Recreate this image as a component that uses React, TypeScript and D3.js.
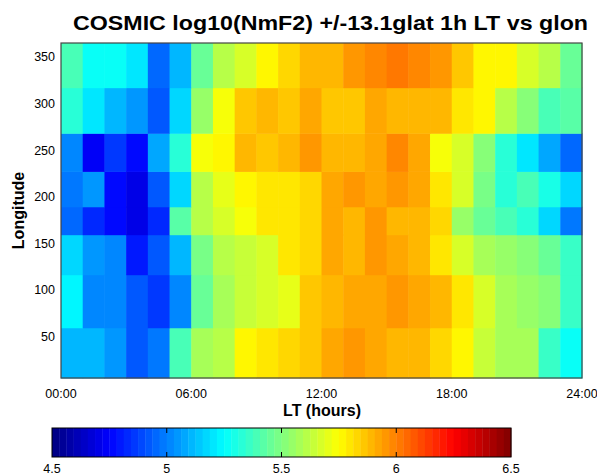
import React from 'react';
import * as d3 from 'd3';

// local time bins (hours), 1h wide
const hours = d3.range(24);
// longitude bin edges (deg), bottom to top
const lonEdges = [5, 59, 116, 159, 189, 227, 268, 317, 365];
// log10(NmF2) per longitude bin (bottom to top), 24 hourly values each
const nmf2 = [
  [5.12, 5.10, 5.05, 4.93, 4.99, 5.38, 5.58, 5.62, 5.75, 5.80, 5.83, 5.86, 5.92, 5.94, 5.91, 5.89, 5.88, 5.83, 5.75, 5.64, 5.58, 5.58, 5.35, 5.25],
  [5.22, 5.02, 5.00, 4.93, 4.85, 5.02, 5.45, 5.58, 5.64, 5.67, 5.71, 5.86, 5.90, 5.91, 5.91, 5.94, 5.92, 5.89, 5.81, 5.68, 5.58, 5.54, 5.50, 5.35],
  [5.18, 5.04, 5.00, 4.81, 4.91, 5.12, 5.49, 5.62, 5.64, 5.67, 5.80, 5.83, 5.91, 5.89, 5.94, 5.91, 5.89, 5.79, 5.66, 5.58, 5.56, 5.50, 5.45, 5.37],
  [4.95, 4.83, 4.77, 4.70, 4.83, 5.41, 5.60, 5.66, 5.72, 5.80, 5.80, 5.83, 5.92, 5.89, 5.94, 5.89, 5.89, 5.82, 5.56, 5.45, 5.39, 5.33, 5.17, 4.99],
  [4.99, 5.06, 4.78, 4.69, 4.91, 5.16, 5.62, 5.69, 5.75, 5.80, 5.80, 5.83, 5.91, 5.94, 5.92, 5.95, 5.92, 5.80, 5.68, 5.47, 5.34, 5.38, 5.31, 5.18],
  [5.02, 4.72, 4.87, 4.75, 5.08, 5.34, 5.72, 5.78, 5.90, 5.87, 5.89, 5.95, 5.90, 5.90, 5.92, 5.98, 5.92, 5.72, 5.66, 5.50, 5.34, 5.20, 5.07, 4.94],
  [5.34, 5.20, 5.10, 5.04, 4.93, 5.16, 5.56, 5.72, 5.86, 5.89, 5.85, 5.91, 5.86, 5.86, 5.92, 5.90, 5.88, 5.90, 5.79, 5.75, 5.60, 5.52, 5.38, 5.43],
  [5.38, 5.28, 5.28, 5.19, 4.95, 5.12, 5.45, 5.62, 5.68, 5.75, 5.83, 5.89, 5.89, 5.94, 5.98, 6.00, 5.98, 5.95, 5.86, 5.75, 5.75, 5.68, 5.62, 5.45],
];
const xTicks = [0, 6, 12, 18, 24];
const yTicks = [50, 100, 150, 200, 250, 300, 350];
const cbTicks = [4.5, 5, 5.5, 6, 6.5];
const cbMin = 4.5;
const cbMax = 6.5;
const title = 'COSMIC log10(NmF2) +/-13.1glat 1h LT vs glon';

// matlab-style jet, 64 levels
function jet(t: number) {
  const c = (x: number) => Math.max(0, Math.min(1, x));
  const r = c(Math.min(4 * t - 1.5, -4 * t + 4.5));
  const g = c(Math.min(4 * t - 0.5, -4 * t + 3.5));
  const b = c(Math.min(4 * t + 0.5, -4 * t + 2.5));
  return d3.rgb(r * 255, g * 255, b * 255).formatHex();
}
const nLevels = 64;
const colorOf = (v: number) => {
  const t = (v - cbMin) / (cbMax - cbMin);
  const k = Math.max(0, Math.min(nLevels - 1, Math.floor(t * nLevels)));
  return jet((k + 0.5) / nLevels);
};

const font = 'Liberation Sans, Arial, Helvetica, sans-serif';

export default function App() {
  const left = 61, right = 582, top = 43, bottom = 378;
  const x = d3.scaleLinear().domain([0, 24]).range([left, right]);
  const y = d3.scaleLinear().domain([lonEdges[0], lonEdges[lonEdges.length - 1]]).range([bottom, top]);

  const cbLeft = 52, cbRight = 511, cbTop = 428, cbBottom = 457;
  const cx = d3.scaleLinear().domain([cbMin, cbMax]).range([cbLeft, cbRight]);
  const levels = d3.range(nLevels);
  const step = (cbMax - cbMin) / nLevels;

  return (
    <svg width={597} height={476} style={{ position: 'absolute', left: 0, top: 0, background: '#fff' }}>
      <rect width={597} height={476} fill="#fff" />
      <text x={73} y={30} fontFamily={font} fontWeight="bold" fontSize={21}
        textLength={515} lengthAdjust="spacingAndGlyphs">{title}</text>

      <g>
        {nmf2.map((row, r) =>
          row.map((v, i) => (
            <rect key={`${r}-${i}`}
              x={x(hours[i])}
              y={y(lonEdges[r + 1])}
              width={x(hours[i] + 1) - x(hours[i]) + 0.5}
              height={y(lonEdges[r]) - y(lonEdges[r + 1]) + 0.5}
              fill={colorOf(v)} />
          ))
        )}
      </g>
      <rect x={left} y={top} width={right - left} height={bottom - top} fill="none" stroke="#444" strokeWidth={1.2} />

      {xTicks.map(t => (
        <text key={t} x={x(t)} y={398} textAnchor="middle" fontFamily={font} fontSize={12.5}>
          {`${String(t).padStart(2, '0')}:00`}
        </text>
      ))}
      {yTicks.map(t => (
        <text key={t} x={55} y={y(t) + 4.5} textAnchor="end" fontFamily={font} fontSize={12.5}>{t}</text>
      ))}
      <text x={322} y={416} textAnchor="middle" fontFamily={font} fontWeight="bold" fontSize={16}>LT (hours)</text>
      <text transform={`translate(24 ${(top + bottom) / 2}) rotate(-90)`} textAnchor="middle" fontFamily={font} fontWeight="bold" fontSize={16}>Longitude</text>

      <g>
        {levels.map(k => (
          <rect key={k}
            x={cx(cbMin + k * step)}
            y={cbTop}
            width={cx(cbMin + (k + 1) * step) - cx(cbMin + k * step) + 0.4}
            height={cbBottom - cbTop}
            fill={jet((k + 0.5) / nLevels)} />
        ))}
        <rect x={cbLeft} y={cbTop} width={cbRight - cbLeft} height={cbBottom - cbTop} fill="none" stroke="#000" strokeWidth={1} />
        {cbTicks.slice(1, -1).map(t => (
          <g key={t}>
            <line x1={cx(t)} x2={cx(t)} y1={cbTop} y2={cbTop + 5} stroke="#000" />
            <line x1={cx(t)} x2={cx(t)} y1={cbBottom} y2={cbBottom - 5} stroke="#000" />
          </g>
        ))}
        {cbTicks.map(t => (
          <text key={t} x={cx(t)} y={473} textAnchor="middle" fontFamily={font} fontSize={12.5}>{t}</text>
        ))}
      </g>
    </svg>
  );
}
